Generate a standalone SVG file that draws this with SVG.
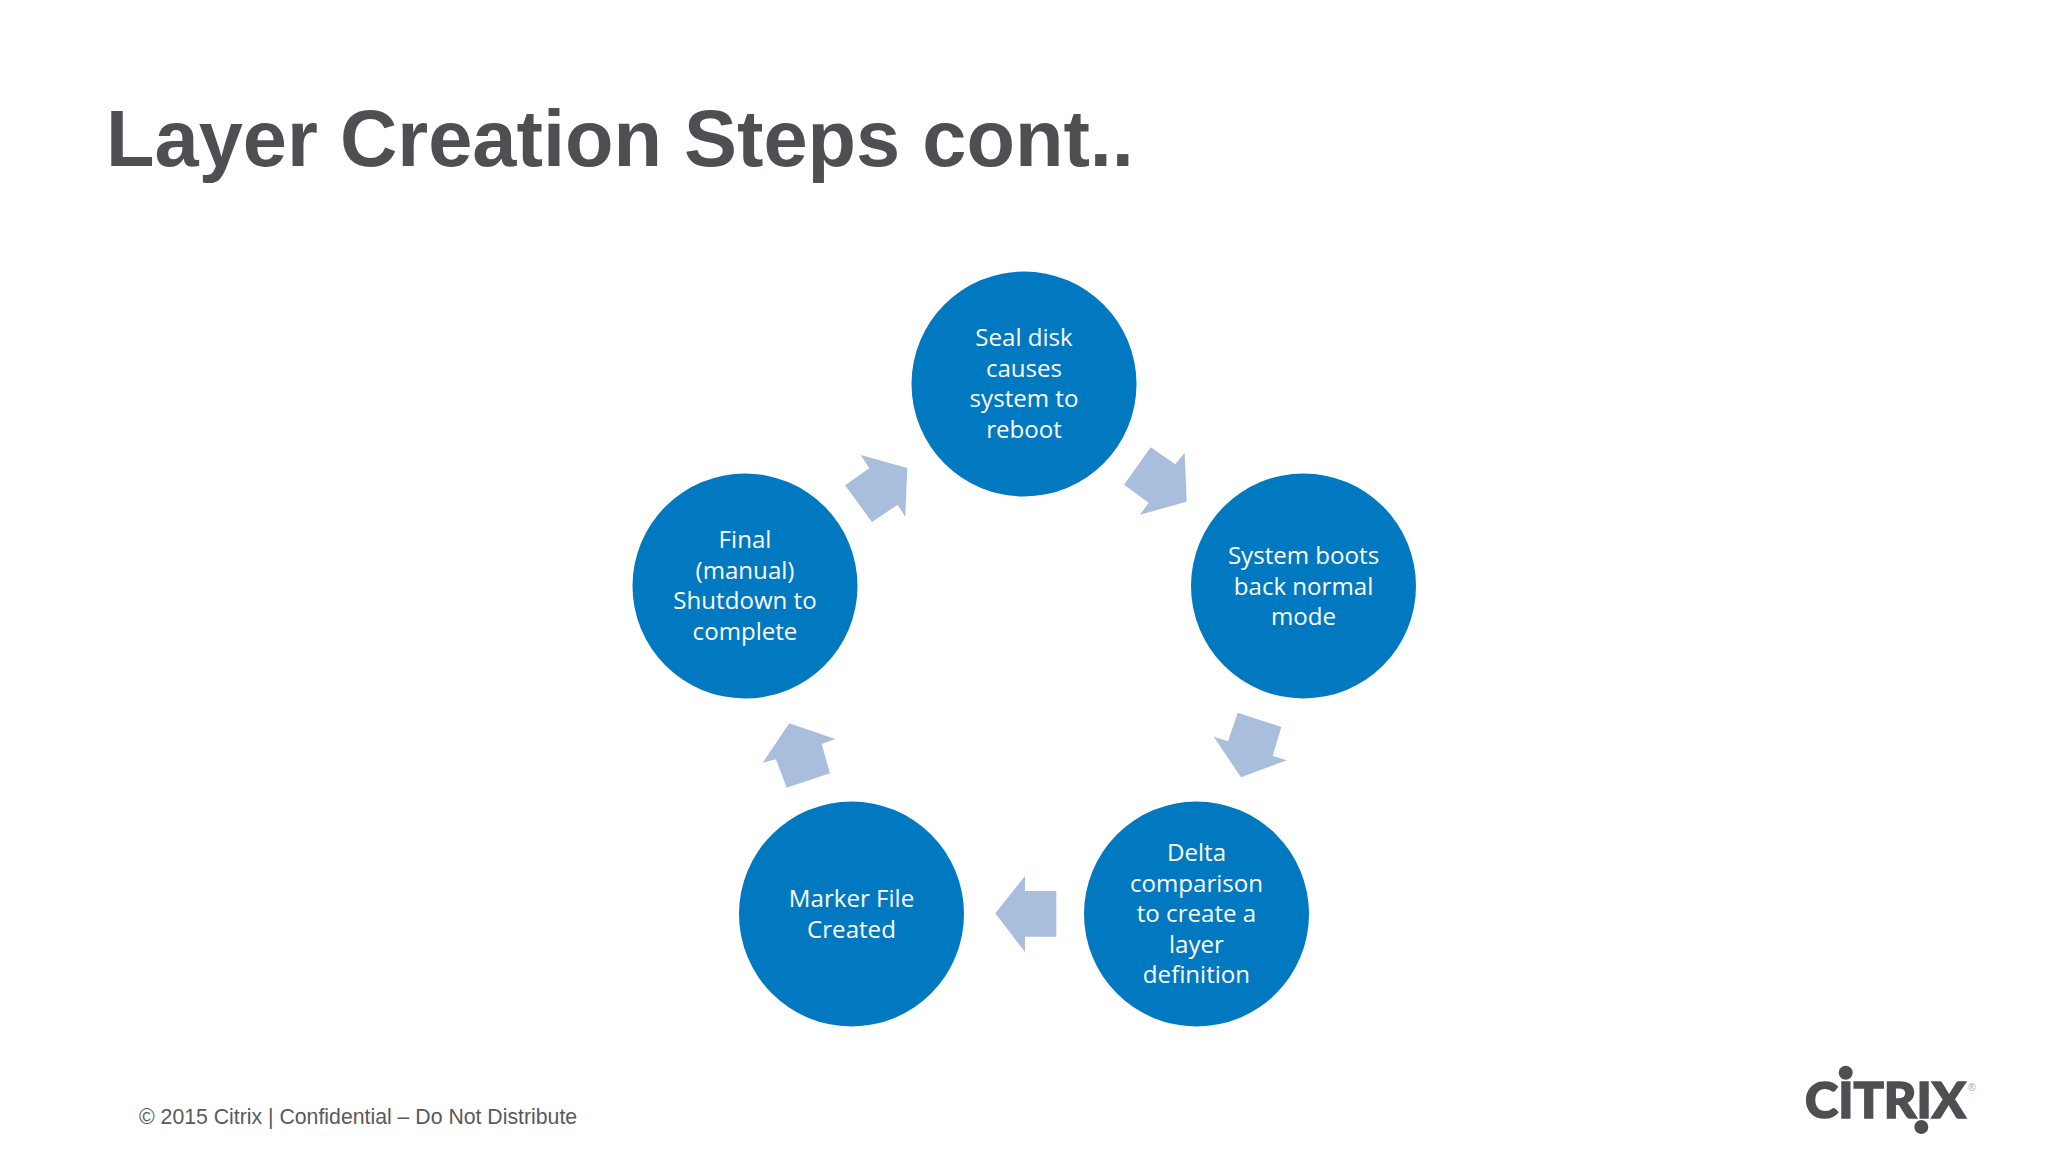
<svg xmlns="http://www.w3.org/2000/svg" width="2048" height="1152" viewBox="0 0 2048 1152">
<style>
.title{font:bold 79.4px "Liberation Sans",Arial,sans-serif;fill:#4d4f53}
.foot{font:21.25px "Liberation Sans",Arial,sans-serif;fill:#58595b}
.c{fill:#0079c1}
.l{font:24.1px "Open Sans","Noto Sans",sans-serif;fill:#fff;text-anchor:middle}
.a{fill:#a9bedd}
.logo{font:900 50px "Lato","Liberation Sans",sans-serif;fill:#4d4f53;stroke:#4d4f53;stroke-width:1.6}
</style>
<rect width="2048" height="1152" fill="#fff"/>
<text class="title" x="106" y="165.5">Layer Creation Steps cont..</text>
<g id="connectors">
<polygon class="a" points="1150.7,447.3 1175.3,464.3 1184.7,452.7 1186.7,501.7 1140,514.7 1148.7,502.7 1124,484.7"/>
<polygon class="a" points="1237.7,712.7 1281.3,727 1272.7,756 1286.7,760.3 1241,777.3 1213.7,736.7 1228,741.3"/>
<polygon class="a" points="995.3,913.3 1025,876 1025,891 1056.3,891 1056.3,936.7 1025,936.7 1025,952"/>
<polygon class="a" points="789.3,723.3 835.3,739 821.7,744 830,773.3 786.7,787.7 776,759.3 762.7,762.7"/>
<polygon class="a" points="860.7,455 907.3,468 905.3,516.7 897.7,504.7 872,522 845,485.3 869.3,468.3"/>
</g>
<g id="node-seal"><circle class="c" cx="1024" cy="384" r="112.5"/>
<text class="l" x="1024" y="345.5">Seal disk</text><text class="l" x="1024" y="376.5">causes</text><text class="l" x="1024" y="406.5">system to</text><text class="l" x="1024" y="437.5">reboot</text></g>
<g id="node-boots"><circle class="c" cx="1303.5" cy="586" r="112.5"/>
<text class="l" x="1303.5" y="563.5">System boots</text><text class="l" x="1303.5" y="594.5">back normal</text><text class="l" x="1303.5" y="624.5">mode</text></g>
<g id="node-delta"><circle class="c" cx="1196.5" cy="914" r="112.5"/>
<text class="l" x="1196.5" y="860.5">Delta</text><text class="l" x="1196.5" y="891.5">comparison</text><text class="l" x="1196.5" y="921.5">to create a</text><text class="l" x="1196.5" y="952.5">layer</text><text class="l" x="1196.5" y="982.5">definition</text></g>
<g id="node-marker"><circle class="c" cx="851.5" cy="914" r="112.5"/>
<text class="l" x="851.5" y="906.5">Marker File</text><text class="l" x="851.5" y="937.5">Created</text></g>
<g id="node-final"><circle class="c" cx="745" cy="586" r="112.5"/>
<text class="l" x="745" y="547.5">Final</text><text class="l" x="745" y="578.5">(manual)</text><text class="l" x="745" y="608.5">Shutdown to</text><text class="l" x="745" y="639.5">complete</text></g>
<text class="foot" x="139" y="1124">© 2015 Citrix | Confidential – Do Not Distribute</text>
<g id="logo">
<text class="logo" x="1805" y="1118" textLength="161" lengthAdjust="spacingAndGlyphs">CITRIX</text>
<circle cx="1845.7" cy="1072.7" r="7" fill="#4d4f53"/><circle cx="1921.3" cy="1127" r="7" fill="#4d4f53"/>
<text x="1971.7" y="1091" font-family="Liberation Sans,sans-serif" font-size="11" fill="#aaa" text-anchor="middle">®</text>
</g>
</svg>
